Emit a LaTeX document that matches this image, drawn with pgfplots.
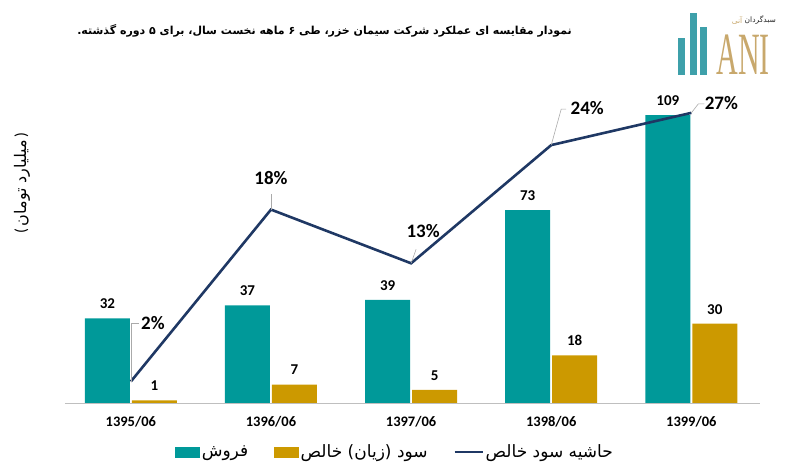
\documentclass[border=0pt]{standalone}
\usepackage{pgfplots}
\pgfplotsset{compat=1.18}
\usepackage{pgfplotstable}
\usepackage{fontspec}
\setmainfont{Carlito}
\TeXXeTstate=1
\newfontfamily\arabicfont[Script=Arabic]{DejaVu Sans}
\newfontfamily\logoserif{Liberation Serif}
\definecolor{tealc}{RGB}{0,153,153}
\definecolor{goldc}{RGB}{204,153,0}
\definecolor{navyc}{RGB}{31,56,100}
\definecolor{logoteal}{RGB}{62,160,170}
\definecolor{logogold}{RGB}{200,168,108}
\definecolor{leader}{RGB}{170,170,170}

\pgfplotstableread{
x sales
0 32
1 37
2 39
3 73
4 109
}\salestab
\pgfplotstableread{
x profit
0 1
1 7
2 5
3 18
4 30
}\profittab
\pgfplotstableread{
x margin dx dy
0 2 22 58
1 18 0 32
2 13 12 32
3 24 36 37
4 27 30 10
}\margintab

\begin{document}
\begin{tikzpicture}[x=1pt,y=1pt]
\useasboundingbox (0,0) rectangle (792,473);
% title
\node[anchor=east, inner sep=0pt] at (572,442) {\arabicfont\bfseries\fontsize{11}{13}\selectfont\beginR نمودار مقایسه ای عملکرد شرکت سیمان خزر، طی ۶ ماهه نخست سال، برای ۵ دوره گذشته.\endR};
% logo
\fill[logoteal] (678,398) rectangle (685,435);
\fill[logoteal] (690,398) rectangle (697,460);
\fill[logoteal] (700,398) rectangle (707,446);
\node[logogold, inner sep=0pt, xscale=0.5] at (743,418) {\logoserif\fontsize{60}{60}\selectfont ANI};
\node[inner sep=0pt, anchor=east, text=black!85] (logoA) at (776,453) {\arabicfont\fontsize{7.5}{9}\selectfont\beginR سبدگردان\endR};
\node[inner sep=0pt, anchor=east, text=logogold] at ([xshift=-2pt]logoA.west) {\arabicfont\fontsize{7.5}{9}\selectfont\beginR آنی\endR};
% y label
\node[rotate=90, inner sep=0pt] at (22,290) {\fontsize{16}{18}\selectfont(\,{\arabicfont\beginR میلیارد تومان\endR}\,)};

\begin{axis}[
  at={(65pt,70pt)}, anchor=south west,
  scale only axis, width=695pt, height=317pt,
  ybar, bar width=45pt, ybar=2pt,
  xmin=-0.47, xmax=4.49, ymin=0, ymax=120,
  axis x line=bottom, axis y line=none,
  x axis line style={-, draw=gray!50, line width=0.8pt},
  xtick={0,1,2,3,4},
  xticklabels={1395/06,1396/06,1397/06,1398/06,1399/06},
  xticklabel style={font=\bfseries\fontsize{14.5}{15}\selectfont, yshift=-10pt},
  major tick length=0pt,
  clip=false,
  /pgf/number format/assume math mode=true,
  nodes near coords,
  nodes near coords style={font=\bfseries\fontsize{15}{16}\selectfont, black, yshift=6pt},
]
\addplot[fill=tealc, draw=none] table[x=x, y=sales] {\salestab};
\addplot[fill=goldc, draw=none] table[x=x, y=profit] {\profittab};
\end{axis}

\begin{axis}[
  at={(65pt,70pt)}, anchor=south west,
  scale only axis, width=695pt, height=317pt,
  xmin=-0.47, xmax=4.49, ymin=0, ymax=29.5,
  hide axis, clip=false,
  /pgf/number format/assume math mode=true,
  legend style={at={(0.475,-0.155)}, anchor=center, draw=none, fill=none,
    legend columns=3, /tikz/every even column/.append style={column sep=24pt},
    font=\arabicfont\fontsize{17}{19}\selectfont},
  legend cell align=left,
]
\addlegendimage{legend image code/.code={\fill[tealc] (0pt,-5pt) rectangle (24pt,5pt);}}
\addlegendentry{\beginR فروش\endR}
\addlegendimage{legend image code/.code={\fill[goldc] (0pt,-5pt) rectangle (24pt,5pt);}}
\addlegendentry{\beginR سود (زیان) خالص\endR}
\addplot[navyc, line width=2.6pt, mark=none,
  legend image code/.code={\draw[navyc, line width=2pt] (0pt,0pt) -- (28pt,0pt);},
  nodes near coords={\pgfmathprintnumber[fixed,precision=0]{\pgfplotspointmeta}\%},
  point meta=y,
  visualization depends on={\thisrow{dx}\as\mydx},
  visualization depends on={\thisrow{dy}\as\mydy},
  every node near coord/.append style={anchor=center, black, font=\bfseries\fontsize{19}{20}\selectfont, xshift=\mydx pt, yshift=\mydy pt},
] table[x=x, y=margin] {\margintab};
\addlegendentry{\beginR حاشیه سود خالص\endR}
\draw[leader, line width=0.6pt] (axis cs:0,2) -- ([yshift=58pt]axis cs:0,2) -- ([xshift=8pt,yshift=58pt]axis cs:0,2);
\draw[leader, line width=0.6pt] (axis cs:1,18) -- ([yshift=16pt]axis cs:1,18);
\draw[leader, line width=0.6pt] (axis cs:2,13) -- ([xshift=5pt,yshift=14pt]axis cs:2,13);
\draw[leader, line width=0.6pt] (axis cs:3,24) -- ([xshift=10pt,yshift=36pt]axis cs:3,24) -- ([xshift=15pt,yshift=36pt]axis cs:3,24);
\draw[leader, line width=0.6pt] (axis cs:4,27) -- ([xshift=7pt,yshift=9pt]axis cs:4,27) -- ([xshift=13pt,yshift=9pt]axis cs:4,27);
\end{axis}
\end{tikzpicture}
\end{document}
